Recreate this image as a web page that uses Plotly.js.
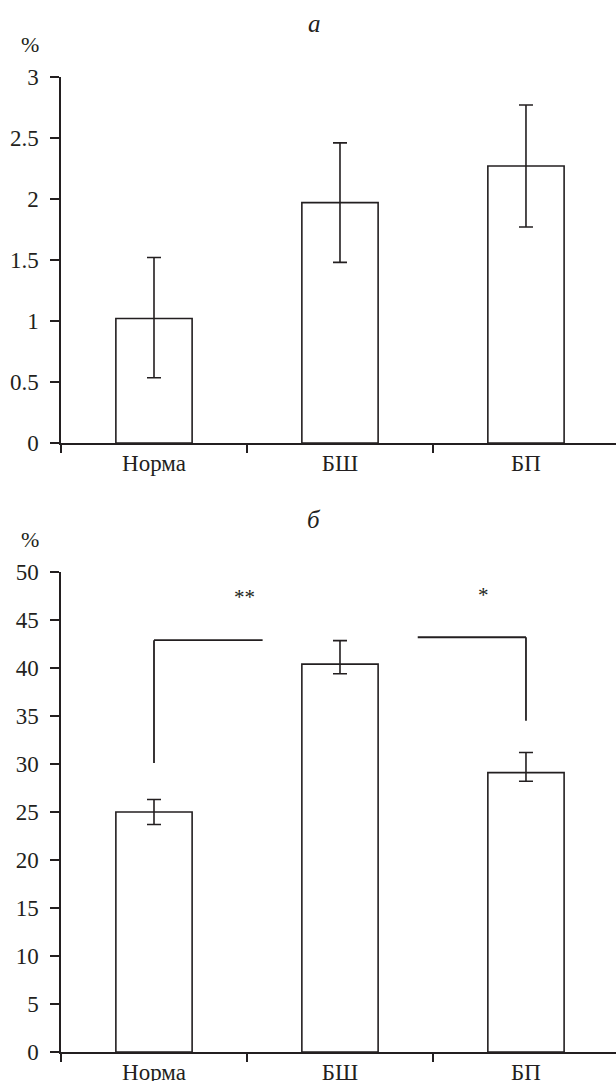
<!DOCTYPE html>
<html>
<head>
<meta charset="utf-8">
<script src="https://cdn.plot.ly/plotly-3.0.1.min.js"></script>
<style>html,body{margin:0;padding:0;background:#fff;}#chart{width:616px;height:1081px;}</style>
</head>
<body>
<div id="chart"></div>
<script>
// ---- data ----
const categories = ['Норма', 'БШ', 'БП'];
// panel а
const valuesA = [1.02, 1.97, 2.27];
const errPlusA = [0.50, 0.49, 0.50];
const errMinusA = [0.485, 0.49, 0.50];
const yTicksA = [0, 0.5, 1, 1.5, 2, 2.5, 3];
// panel б
const valuesB = [25.0, 40.4, 29.1];
const errPlusB = [1.3, 2.45, 2.1];
const errMinusB = [1.3, 1.0, 0.9];
const yTicksB = [0, 5, 10, 15, 20, 25, 30, 35, 40, 45, 50];
// significance brackets (category index, value)
const bracket1X = [0, 0, 0.584];
const bracket1Y = [30.1, 42.9, 42.9];
const bracket2X = [1.418, 2.0, 2.0];
const bracket2Y = [43.2, 43.2, 34.5];
const starLabels = ['**', '*'];
const starX = [0.489, 1.769];
const starY = [47.7, 47.9];

const INK = '#231f20';
const FONT = 'Liberation Serif';

function barTrace(vals, plus, minus, xa, ya) {
  return {
    type: 'bar', x: categories, y: vals, xaxis: xa, yaxis: ya,
    marker: {color: '#ffffff', line: {color: INK, width: 1.6}},
    error_y: {type: 'data', symmetric: false, array: plus, arrayminus: minus,
              color: INK, thickness: 1.6, width: 7},
    hoverinfo: 'skip', showlegend: false
  };
}

const data = [
  barTrace(valuesA, errPlusA, errMinusA, 'x', 'y'),
  barTrace(valuesB, errPlusB, errMinusB, 'x2', 'y2')
];

function xAxis(anchor) {
  return {
    type: 'category', anchor: anchor, domain: [0, 1], range: [-0.5, 2.484],
    tickson: 'boundaries', ticks: 'outside', ticklen: 8, tickwidth: 1.5, tickcolor: INK,
    ticklabelstandoff: -1,
    showline: true, linecolor: INK, linewidth: 1.6, showgrid: false, zeroline: false,
    tickfont: {family: FONT, size: 23, color: INK}, automargin: false, fixedrange: true
  };
}
function yAxis(anchor, domain, range, ticks) {
  return {
    anchor: anchor, domain: domain, range: range, tickvals: ticks,
    ticks: 'outside', ticklen: 9, tickwidth: 1.5, tickcolor: INK, ticklabelstandoff: 7,
    showline: true, linecolor: INK, linewidth: 1.6, showgrid: false, zeroline: false,
    tickfont: {family: FONT, size: 23, color: INK}, automargin: false, fixedrange: true
  };
}

function bracketShapes(xs, ys) {
  const out = [];
  for (let i = 0; i < xs.length - 1; i++) {
    out.push({type: 'line', xref: 'x2', yref: 'y2', x0: xs[i], y0: ys[i], x1: xs[i + 1], y1: ys[i + 1],
              line: {color: INK, width: 1.8}});
  }
  return out;
}

function paperText(t, x, y, size, italic) {
  return {text: t, xref: 'paper', yref: 'paper', x: x, y: y, xanchor: 'center', yanchor: 'middle',
          showarrow: false, font: {family: FONT, size: size, color: INK, style: italic ? 'italic' : 'normal'}};
}

const annotations = [
  paperText('а', 0.456, 0.978, 25, true),
  paperText('б', 0.456, 0.519, 25, true),
  paperText('%', -0.056, 0.9584, 22, false),
  paperText('%', -0.056, 0.5005, 22, false)
];
for (let i = 0; i < starLabels.length; i++) {
  annotations.push({text: starLabels[i], xref: 'x2', yref: 'y2', x: starX[i], y: starY[i],
    xanchor: 'center', yanchor: 'middle', yshift: -3, showarrow: false,
    font: {family: FONT, size: 21, color: INK}});
}

const layout = {
  width: 616, height: 1081, margin: {l: 61, r: 0, t: 0, b: 0},
  paper_bgcolor: '#ffffff', plot_bgcolor: '#ffffff',
  bargap: 0.59, showlegend: false,
  font: {family: FONT, color: INK},
  xaxis: xAxis('y'),
  yaxis: yAxis('x', [0.5902, 0.9288], [0, 3], yTicksA),
  xaxis2: xAxis('y2'),
  yaxis2: yAxis('x2', [0.02683, 0.4709], [0, 50], yTicksB),
  shapes: bracketShapes(bracket1X, bracket1Y).concat(bracketShapes(bracket2X, bracket2Y)),
  annotations: annotations
};

Plotly.newPlot('chart', data, layout, {staticPlot: true, displayModeBar: false});
</script>
</body>
</html>
